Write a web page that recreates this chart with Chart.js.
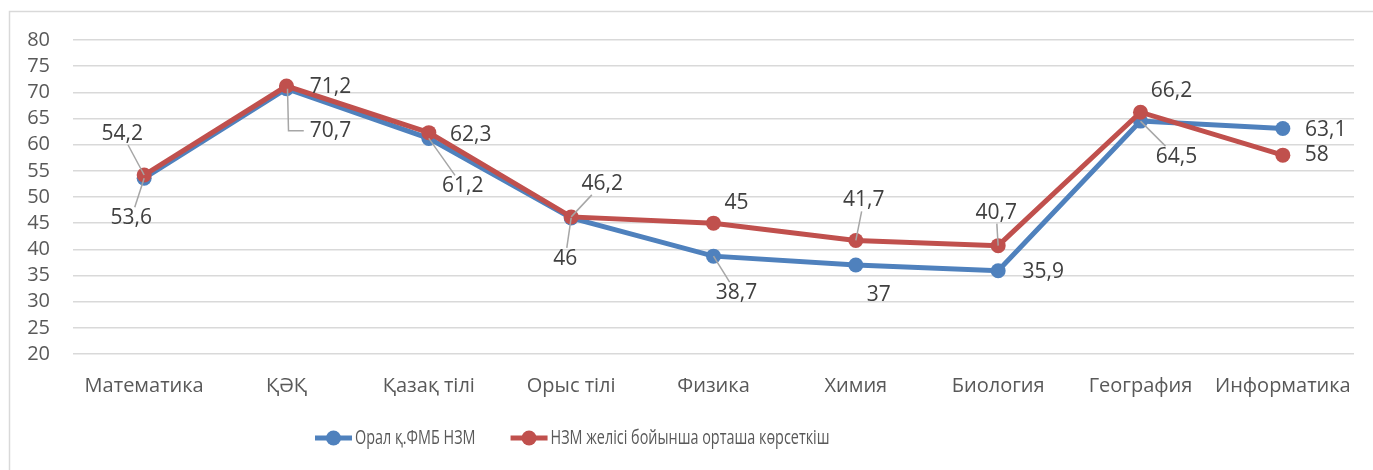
<!DOCTYPE html>
<html>
<head>
<meta charset="utf-8">
<script src="https://cdn.jsdelivr.net/npm/chart.js@4.4.1/dist/chart.umd.min.js"></script>
<style>
  html, body { margin: 0; padding: 0; background: #fff; }
  #wrap { width: 1373px; height: 470px; position: relative; }
</style>
</head>
<body>
<div id="wrap"><canvas id="chart" width="1373" height="470"></canvas></div>
<script>
// DATA
const categories = ['Математика', 'ҚӘҚ', 'Қазақ тілі', 'Орыс тілі', 'Физика', 'Химия', 'Биология', 'География', 'Информатика'];
const uralScores = [53.6, 70.7, 61.2, 46, 38.7, 37, 35.9, 64.5, 63.1];
const networkAvg = [54.2, 71.2, 62.3, 46.2, 45, 41.7, 40.7, 66.2, 58];
const seriesNames = ['Орал қ.ФМБ НЗМ', 'НЗМ желісі бойынша орташа көрсеткіш'];
const yMin = 20, yMax = 80, yStep = 5;

// label placement relative to the point: [dx, dy, leader]
const uralLabelPos = [[-13, 40, 'line'], [44, 42, 'elbow'], [34, 48, 'line'], [-6, 41, 'line'], [23, 37, 'line'],
  [23, 30, ''], [45, 1, ''], [36, 36, 'line'], [43, 2, '']];
const avgLabelPos = [[-22, -41, 'line'], [44, 1, ''], [42, 2, ''], [31, -33, 'line'], [23, -20, ''],
  [8, -40, 'line'], [-2, -33, 'line'], [31, -21, ''], [34, 0, '']];

const FONT = "'Open Sans', 'Noto Sans', sans-serif";

const dataLabels = {
  id: 'dataLabels',
  afterDatasetsDraw(chart) {
    const ctx = chart.ctx;
    ctx.save();
    ctx.font = '21px ' + FONT;
    ctx.textAlign = 'center';
    ctx.textBaseline = 'middle';
    chart.data.datasets.forEach((ds, i) => {
      const meta = chart.getDatasetMeta(i);
      meta.data.forEach((pt, j) => {
        const [dx, dy, lead] = ds.labelPos[j];
        const x = pt.x + dx, y = pt.y + dy;
        const text = String(ds.data[j]).replace('.', ',');
        const w = ctx.measureText(text).width;
        ctx.strokeStyle = '#a6a6a6';
        ctx.lineWidth = 1.5;
        if (lead === 'line') {
          const vx = pt.x - x, vy = pt.y - y;
          const hw = w / 2 + 2, hh = 11;
          const t = Math.min(vx ? hw / Math.abs(vx) : 9, vy ? hh / Math.abs(vy) : 9);
          ctx.beginPath();
          ctx.moveTo(pt.x, pt.y);
          ctx.lineTo(x + vx * t, y + vy * t);
          ctx.stroke();
        } else if (lead === 'elbow') {
          ctx.beginPath();
          ctx.moveTo(pt.x + 1, pt.y);
          ctx.lineTo(pt.x + 2, y);
          ctx.lineTo(x - w / 2 - 6, y);
          ctx.stroke();
        }
        ctx.fillStyle = '#404040';
        ctx.fillText(text, x, y);
      });
    });
    ctx.restore();
  }
};

// border + legend
const frameAndLegend = {
  id: 'frameAndLegend',
  afterDraw(chart) {
    const ctx = chart.ctx;
    ctx.save();
    ctx.strokeStyle = '#d9d9d9';
    ctx.lineWidth = 1.5;
    ctx.beginPath();
    ctx.moveTo(9.5, 470);
    ctx.lineTo(9.5, 11.5);
    ctx.lineTo(1373, 11.5);
    ctx.stroke();

    ctx.font = '20px ' + FONT;
    ctx.textBaseline = 'middle';
    ctx.textAlign = 'left';
    const squeeze = 0.72;
    const sample = 37, gap = 3, between = 35;
    let x = 315;
    const y = 438;
    chart.data.datasets.forEach((ds, k) => {
      if (k) x += between;
      ctx.strokeStyle = ds.borderColor;
      ctx.lineWidth = 5;
      ctx.beginPath();
      ctx.moveTo(x, y);
      ctx.lineTo(x + sample, y);
      ctx.stroke();
      ctx.fillStyle = ds.borderColor;
      ctx.beginPath();
      ctx.arc(x + sample / 2, y, 7.5, 0, Math.PI * 2);
      ctx.fill();
      x += sample + gap;
      const w = ctx.measureText(ds.label).width * squeeze;
      ctx.save();
      ctx.translate(x, y);
      ctx.scale(squeeze, 1);
      ctx.fillStyle = '#595959';
      ctx.fillText(ds.label, 0, 0);
      ctx.restore();
      x += w;
    });
    ctx.restore();
  }
};

const data = {
  labels: categories,
  datasets: [
    {
      label: seriesNames[0],
      data: uralScores,
      labelPos: uralLabelPos,
      borderColor: '#4f81bd',
      backgroundColor: '#4f81bd',
      borderWidth: 5,
      pointRadius: 7.5,
      pointHoverRadius: 7.5,
      pointBorderWidth: 0,
      tension: 0,
      order: 2,
    },
    {
      label: seriesNames[1],
      data: networkAvg,
      labelPos: avgLabelPos,
      borderColor: '#c0504d',
      backgroundColor: '#c0504d',
      borderWidth: 5,
      pointRadius: 7.5,
      pointHoverRadius: 7.5,
      pointBorderWidth: 0,
      tension: 0,
      order: 1,
    },
  ]
};

const config = {
  type: 'line',
  data: data,
  options: {
    responsive: false,
    animation: false,
    layout: { padding: { left: 0, right: 19, top: 40, bottom: 0 } },
    plugins: {
      legend: { display: false },
      tooltip: { enabled: false },
    },
    scales: {
      x: {
        offset: true,
        grid: { display: false, drawTicks: false },
        border: { display: false },
        ticks: { color: '#595959', font: { family: FONT, size: 20 }, padding: 20, maxRotation: 0, autoSkip: false },
        afterFit: s => { s.height = 116; },
      },
      y: {
        min: yMin,
        max: yMax,
        grid: { color: '#d9d9d9', lineWidth: 1.5, drawTicks: false },
        border: { display: false },
        ticks: { stepSize: yStep, color: '#595959', font: { family: FONT, size: 20 }, padding: 23, autoSkip: false },
        afterFit: s => { s.width = 73; },
      },
    },
  },
  plugins: [dataLabels, frameAndLegend],
};

new Chart(document.getElementById('chart'), config);
</script>
</body>
</html>
